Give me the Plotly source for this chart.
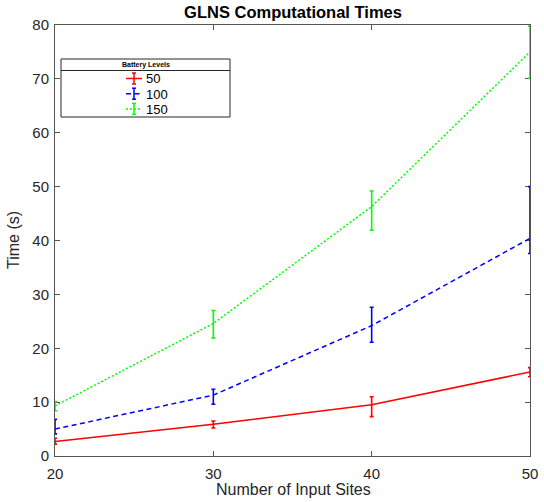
import plotly.graph_objects as go

sites = [20, 30, 40, 50]
levels = ["50", "100", "150"]
times_50 = [2.7, 5.9, 9.5, 15.6]
err_up_50 = [0.6, 0.6, 1.5, 0.8]
err_dn_50 = [0.5, 0.7, 2.2, 0.9]
times_100 = [5.0, 11.3, 24.2, 40.4]
err_up_100 = [1.8, 1.1, 3.4, 9.6]
err_dn_100 = [0.9, 1.7, 3.1, 2.8]
times_150 = [9.3, 24.6, 46.3, 75.0]
err_up_150 = [0.8, 2.4, 2.9, 4.8]
err_dn_150 = [0.9, 2.7, 4.4, 4.9]

colors = ["#ff0000", "#0000ff", "#00ff00"]
dashes = ["solid", "5px,3.5px", "2px,2px"]
series = [
    (levels[0], times_50, err_up_50, err_dn_50),
    (levels[1], times_100, err_up_100, err_dn_100),
    (levels[2], times_150, err_up_150, err_dn_150),
]

W, H = 544, 502
L, R, T, B = 55, 14, 25, 46
PW, PH = W - L - R, H - T - B


def px(x):
    return (x - L) / PW


def py(y):
    return (H - B - y) / PH


fig = go.Figure()
for (name, y, eu, ed), col, dash in zip(series, colors, dashes):
    fig.add_trace(go.Scatter(
        x=sites, y=y, name=name, mode="lines",
        line=dict(color=col, width=1.5, dash=dash),
        error_y=dict(type="data", symmetric=False, array=eu, arrayminus=ed,
                     color=col, thickness=1.6, width=2),
        cliponaxis=False, showlegend=False,
    ))

axis_common = dict(
    showline=True, linecolor="#555555", linewidth=1, mirror="ticks",
    ticks="inside", ticklen=5, tickcolor="#555555", showgrid=False, zeroline=False,
    tickfont=dict(size=15, color="#262626"), automargin=False, layer="below traces",
)

fig.update_layout(
    width=W, height=H,
    margin=dict(l=L, r=R, t=T, b=B),
    paper_bgcolor="white", plot_bgcolor="white",
    font=dict(family="Liberation Sans, Arial, sans-serif", color="#262626"),
    title=dict(text="<b>GLNS Computational Times</b>", x=px(293), xanchor="center",
               xref="paper", yref="container", y=1 - 12.5 / H, yanchor="middle",
               font=dict(size=16.5, color="black")),
    xaxis=dict(range=[20, 50], tickvals=sites, ticklabelstandoff=4, **axis_common),
    yaxis=dict(range=[0, 80], tickvals=list(range(0, 81, 10)), ticklabelstandoff=2,
               **axis_common),
    showlegend=False,
)

# axis titles
fig.add_annotation(xref="paper", yref="paper", x=px(293), y=py(490),
                   text="Number of Input Sites", showarrow=False,
                   font=dict(size=16, color="#262626"), xanchor="center", yanchor="middle")
fig.add_annotation(xref="paper", yref="paper", x=px(13), y=py(240),
                   text="Time (s)", showarrow=False, textangle=-90,
                   font=dict(size=16, color="#262626"), xanchor="center", yanchor="middle")

# legend box
fig.add_shape(type="rect", xref="paper", yref="paper",
              x0=px(61), x1=px(230), y0=py(117), y1=py(59),
              line=dict(color="#262626", width=1), fillcolor="white", layer="below")
fig.add_shape(type="line", xref="paper", yref="paper",
              x0=px(61), x1=px(230), y0=py(70.5), y1=py(70.5),
              line=dict(color="#262626", width=1))
fig.add_annotation(xref="paper", yref="paper", x=px(146), y=py(64.5),
                   text="<b>Battery Levels</b>", showarrow=False,
                   font=dict(size=7, color="black"), xanchor="center", yanchor="middle")

for i, (name, col, dash) in enumerate(zip(levels, colors, dashes)):
    yc = 78.5 + 15.2 * i
    fig.add_shape(type="line", xref="paper", yref="paper",
                  x0=px(126), x1=px(142), y0=py(yc), y1=py(yc),
                  line=dict(color=col, width=1.5, dash=dash))
    fig.add_shape(type="line", xref="paper", yref="paper",
                  x0=px(134), x1=px(134), y0=py(yc - 5.5), y1=py(yc + 5.5),
                  line=dict(color=col, width=1.5))
    for yy in (yc - 5.5, yc + 5.5):
        fig.add_shape(type="line", xref="paper", yref="paper",
                      x0=px(132), x1=px(136), y0=py(yy), y1=py(yy),
                      line=dict(color=col, width=1.5))
    fig.add_annotation(xref="paper", yref="paper", x=px(143.5), y=py(yc + 0.5),
                       text=name, showarrow=False,
                       font=dict(size=13, color="black"), xanchor="left", yanchor="middle")

fig.write_html("out.html", config={"displayModeBar": False},
               post_script="document.body.style.margin='0';document.body.style.overflow='hidden';")
